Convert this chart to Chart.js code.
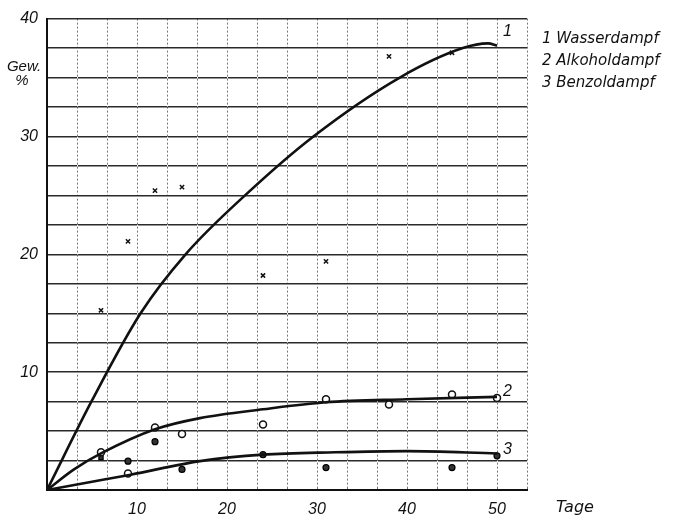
<!DOCTYPE html>
<html lang="de">
<head>
<meta charset="UTF-8">
<title>Gewichtszunahme</title>
<script src="https://cdn.jsdelivr.net/npm/chart.js"></script>
<style>
  body { margin: 0; background: #fff; }
  canvas { display: block; }
</style>
</head>
<body>
<canvas id="chart" width="681" height="520"></canvas>
<script>
// Messpunkte (Tage, Gew.-%)
const wasserDays = [6, 9, 12, 15, 24, 31, 38, 45];
const wasserValues = [15.25, 21.1, 25.4, 25.7, 18.2, 19.4, 36.8, 37.1];

const alkoholDays = [6, 9, 12, 15, 24, 31, 38, 45, 50];
const alkoholValues = [3.2, 1.4, 5.3, 4.75, 5.55, 7.7, 7.25, 8.1, 7.8];

const benzolDays = [6, 9, 12, 15, 24, 31, 45, 50];
const benzolValues = [2.75, 2.45, 4.1, 1.75, 3.0, 1.9, 1.9, 2.9];

// Ausgleichskurven
const curve1Days = [0, 5, 10.4, 15.4, 22, 29.6, 39.2, 46.2, 49, 50];
const curve1Values = [0, 7.6, 15, 20, 25, 30, 35, 37.5, 37.9, 37.7];

const curve2Days = [0, 3, 6, 12, 17, 24, 31, 40, 50];
const curve2Values = [0, 1.75, 3.1, 5.15, 6.1, 6.85, 7.45, 7.7, 7.9];

const curve3Days = [0, 5, 9.3, 17, 24, 32, 40, 50];
const curve3Values = [0, 0.7, 1.3, 2.45, 3.0, 3.2, 3.3, 3.1];

const xTickLabels = [10, 20, 30, 40, 50];
const yTickLabels = [10, 20, 30, 40];
const legendLabels = ['1 Wasserdampf', '2 Alkoholdampf', '3 Benzoldampf'];
const curveNames = ['1', '2', '3'];

const xMax = 160 / 3;
const xGridStep = 10 / 3;

const toPoints = (xs, ys) => xs.map((x, i) => ({ x: x, y: ys[i] }));

const FONT = '"Liberation Sans", "DejaVu Sans", sans-serif';
const LABEL_FONT = '"DejaVu Sans", sans-serif';

function curve(xs, ys) {
  return {
    type: 'line',
    data: toPoints(xs, ys),
    borderColor: '#111',
    borderWidth: 2.6,
    pointRadius: 0,
    fill: false,
    cubicInterpolationMode: 'monotone'
  };
}

// Beschriftungen, Legende und Kurvennummern
const textPlugin = {
  id: 'texts',
  afterDraw(chart) {
    const ctx = chart.ctx;
    const xs = chart.scales.x;
    const ys = chart.scales.y;
    ctx.save();
    ctx.fillStyle = '#111';
    ctx.textBaseline = 'middle';

    ctx.font = 'italic 15px ' + FONT;
    ctx.textAlign = 'center';
    ctx.fillText('Gew.', 24, 67);
    ctx.fillText('%', 22, 81);

    ctx.font = 'italic 16px ' + LABEL_FONT;
    ctx.textAlign = 'left';
    ctx.fillText('Tage', 556, 508);

    ctx.font = 'italic 15px ' + LABEL_FONT;
    legendLabels.forEach((t, i) => ctx.fillText(t, 542, 39 + i * 22));

    const ends = [
      [curve1Days, curve1Values, -14],
      [curve2Days, curve2Values, -5],
      [curve3Days, curve3Values, -4]
    ];
    ctx.font = 'italic 16px ' + FONT;
    ends.forEach((e, i) => {
      const n = e[0].length - 1;
      const px = xs.getPixelForValue(e[0][n]);
      const py = ys.getPixelForValue(e[1][n]);
      ctx.fillText(curveNames[i], px + 6, py + e[2]);
    });
    ctx.restore();
  }
};

new Chart(document.getElementById('chart'), {
  type: 'scatter',
  data: {
    datasets: [
      curve(curve1Days, curve1Values),
      curve(curve2Days, curve2Values),
      curve(curve3Days, curve3Values),
      {
        data: toPoints(wasserDays, wasserValues),
        pointStyle: 'crossRot',
        pointRadius: 3,
        borderColor: '#111',
        borderWidth: 1.5
      },
      {
        data: toPoints(alkoholDays, alkoholValues),
        pointStyle: 'circle',
        pointRadius: 3.5,
        backgroundColor: '#fff',
        borderColor: '#111',
        borderWidth: 1.5
      },
      {
        data: toPoints(benzolDays, benzolValues),
        pointStyle: benzolDays.map((d, i) => i === 0 ? 'rect' : 'circle'),
        pointRadius: 3,
        backgroundColor: '#333',
        borderColor: '#000',
        borderWidth: 1.2
      }
    ]
  },
  options: {
    responsive: false,
    animation: false,
    layout: { padding: { left: 0, right: 154, top: 10, bottom: 0 } },
    plugins: {
      legend: { display: false },
      tooltip: { enabled: false }
    },
    scales: {
      x: {
        type: 'linear',
        min: 0,
        max: xMax,
        afterBuildTicks: scale => {
          const ticks = [];
          for (let i = 0; i <= 16; i++) ticks.push({ value: i * xGridStep });
          scale.ticks = ticks;
        },
        afterFit: scale => { scale.height = 30; },
        grid: {
          color: '#777',
          lineWidth: 1,
          drawTicks: false
        },
        border: { display: true, color: '#111', width: 2 },
        ticks: {
          autoSkip: false,
          maxRotation: 0,
          padding: 10,
          color: '#111',
          font: { family: FONT, size: 16, style: 'italic' },
          callback: v => {
            const hit = xTickLabels.find(t => Math.abs(t - v) < 1e-6);
            return hit !== undefined ? String(hit) : '';
          }
        }
      },
      y: {
        min: 0,
        max: 40,
        afterFit: scale => { scale.width = 47; },
        grid: {
          color: '#2a2a2a',
          lineWidth: 1.4,
          drawTicks: false
        },
        border: { display: true, color: '#111', width: 2 },
        ticks: {
          stepSize: 2.5,
          autoSkip: false,
          padding: 9,
          color: '#111',
          font: { family: FONT, size: 16, style: 'italic' },
          callback: v => yTickLabels.includes(v) ? String(v) : ''
        }
      }
    }
  },
  plugins: [textPlugin, {
    // senkrechte Gitterlinien punktiert nachzeichnen
    id: 'dottedGrid',
    beforeDatasetsDraw(chart) {
      const { ctx, chartArea: a, scales: { x } } = chart;
      ctx.save();
      ctx.strokeStyle = '#fff';
      ctx.lineWidth = 1;
      ctx.setLineDash([2, 2]);
      x.ticks.forEach(t => {
        if (t.value === 0) return;
        const px = Math.round(x.getPixelForValue(t.value)) + 0.5;
        ctx.beginPath();
        ctx.moveTo(px, a.top + 2);
        ctx.lineTo(px, a.bottom - 2);
        ctx.stroke();
      });
      ctx.restore();
    }
  }]
});
</script>
</body>
</html>
